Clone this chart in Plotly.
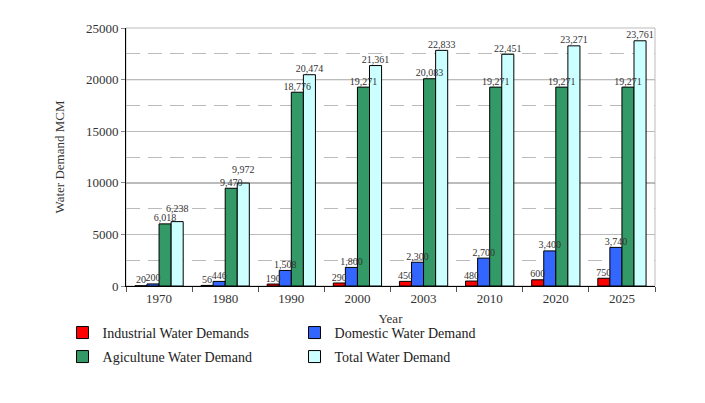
import plotly.graph_objects as go

# data
years = ["1970", "1980", "1990", "2000", "2003", "2010", "2020", "2025"]
industrial = [20, 56, 190, 290, 450, 480, 600, 750]
domestic = [200, 446, 1508, 1800, 2300, 2700, 3400, 3740]
agriculture = [6018, 9470, 18776, 19271, 20083, 19271, 19271, 19271]
total = [6238, 9972, 20474, 21361, 22833, 22451, 23271, 23761]

series = [
    ("Industrial Water Demands", industrial, "#ff0000", "legend"),
    ("Domestic Water Demand", domestic, "#3366ff", "legend"),
    ("Agicultune Water Demand", agriculture, "#339966", "legend2"),
    ("Total Water Demand", total, "#ccffff", "legend2"),
]

font = "Liberation Serif, Times New Roman, serif"
fig = go.Figure()
for i, (name, vals, col, leg) in enumerate(series):
    fig.add_trace(go.Bar(
        x=years, y=vals, name=name, legend=leg, offsetgroup=str(i),
        marker=dict(color=col, line=dict(color="#000000", width=1)),
    ))

# value labels drawn above everything; lift a label when it would collide
# with the label of the bar just left of it
label_y = []
for i, (name, vals, col, leg) in enumerate(series):
    ys = list(vals)
    if i > 0:
        prev = series[i - 1][1]
        ys = [v + 700 if 0 <= v - p < 1000 and v > 3000 else v for v, p in zip(vals, prev)]
    fig.add_trace(go.Scatter(
        x=years, y=ys, mode="text", offsetgroup=str(i), showlegend=False,
        text=[f"{v:,}" for v in vals], textposition="top center",
        textfont=dict(family=font, size=10, color="#333333"),
        cliponaxis=False, hoverinfo="skip",
    ))

# plot border + darker lines at 10000 / 20000
fig.add_shape(type="rect", xref="paper", yref="paper", x0=0, x1=1, y0=0, y1=1,
              line=dict(color="#bbbbbb", width=1), layer="below")
for yv in [10000, 20000]:
    fig.add_shape(type="line", xref="paper", x0=0, x1=1, y0=yv, y1=yv,
                  line=dict(color="#222222", width=1), layer="below")

fig.update_layout(
    width=705, height=403,
    margin=dict(l=118, r=58, t=20, b=125),
    paper_bgcolor="white", plot_bgcolor="white",
    barmode="group", bargap=0.27, bargroupgap=0,
    scattermode="group", scattergap=0.27,
    font=dict(family=font, size=13, color="#333333"),
    xaxis=dict(
        showline=True, linecolor="#000000", ticks="outside", tickson="boundaries",
        ticklen=5, tickcolor="#555555", showgrid=False,
        title=dict(text="Year", standoff=9, font=dict(size=13)),
        tickfont=dict(size=13),
    ),
    yaxis=dict(
        range=[0, 25000], dtick=5000, showline=True, linecolor="#000000",
        ticks="outside", ticklen=4, tickcolor="#888888",
        showgrid=True, gridcolor="#bbbbbb", gridwidth=1, zeroline=False,
        minor=dict(dtick=2500, showgrid=True, gridcolor="#bbbbbb", griddash="14px,8px"),
        title=dict(text="Water Demand MCM", standoff=18, font=dict(size=13)),
        tickfont=dict(size=13), tickformat="d",
    ),
    legend=dict(
        orientation="h", x=-0.12, xanchor="left", y=-0.182, yanchor="middle",
        entrywidth=187, entrywidthmode="pixels", bgcolor="rgba(0,0,0,0)",
        font=dict(family=font, size=14, color="#222222"), itemwidth=30,
    ),
    legend2=dict(
        orientation="h", x=-0.12, xanchor="left", y=-0.275, yanchor="middle",
        entrywidth=187, entrywidthmode="pixels", bgcolor="rgba(0,0,0,0)",
        font=dict(family=font, size=14, color="#222222"), itemwidth=30,
    ),
)

fig.write_html("out.html")
